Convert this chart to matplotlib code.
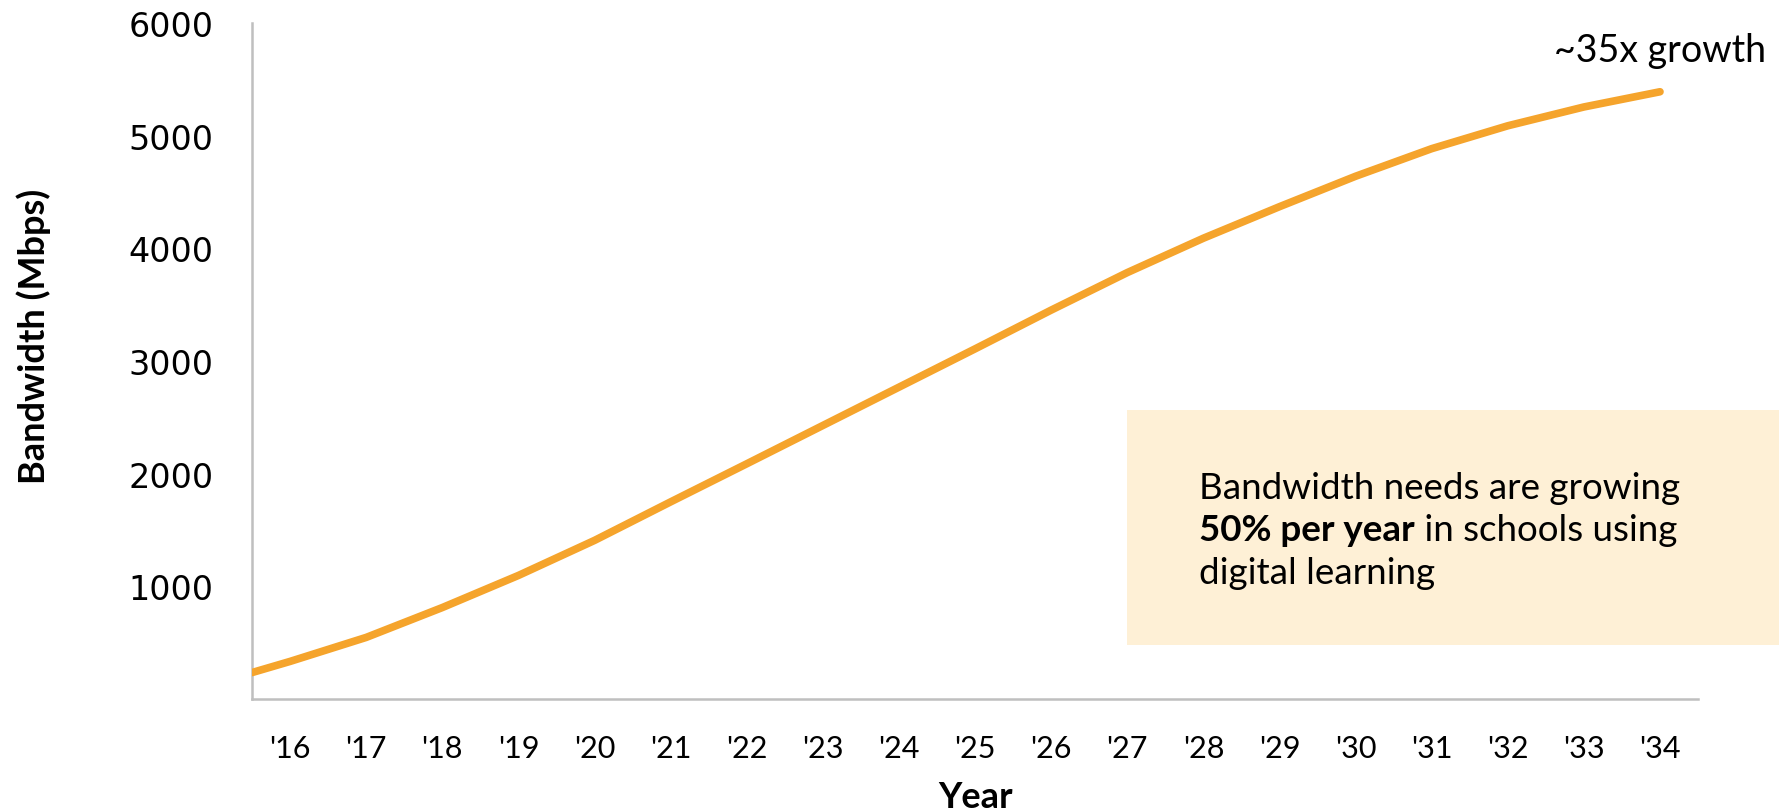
import matplotlib
matplotlib.use("Agg")
import matplotlib.pyplot as plt
from matplotlib.patches import Rectangle

plt.rcParams['font.family'] = ['Lato', 'DejaVu Sans']

# data
years = [2015.5, 2016, 2017, 2018, 2019, 2020, 2021, 2022, 2023, 2024, 2025,
         2026, 2027, 2028, 2029, 2030, 2031, 2032, 2033, 2034]
bandwidth = [235, 334, 547, 812, 1097, 1408, 1750, 2088, 2428, 2768, 3108,
             3452, 3785, 4090, 4370, 4640, 4885, 5088, 5255, 5390]
tick_years = list(range(2016, 2035))
tick_labels = ["'%02d" % (y % 100) for y in tick_years]
y_ticks = [1000, 2000, 3000, 4000, 5000, 6000]

line_color = '#F5A42C'
grey = '#BFBFBF'

fig = plt.figure(figsize=(17.79, 8.12), dpi=100)
ax = fig.add_axes([0.1417, 0.1379, 0.9545 - 0.1417, 0.9704 - 0.1379])

# shaded note box, runs off the right edge of the figure
fig.patches.append(Rectangle((0.6335, 0.2044), 0.40, 0.2894,
                             transform=fig.transFigure, facecolor='#FEF0D6',
                             edgecolor='none', zorder=0))
ax.set_facecolor('none')

ax.plot(years, bandwidth, color=line_color, linewidth=5.5,
        solid_capstyle='round', zorder=3)

ax.set_xlim(2015.5, 2034.5)
ax.set_ylim(0, 6000)
ax.set_xticks(tick_years)
ax.set_xticklabels(tick_labels, fontsize=22)
ax.set_yticks(y_ticks)
ax.set_yticklabels([str(v) for v in y_ticks], fontsize=24, family='DejaVu Sans')
ax.tick_params(axis='x', length=0, pad=25)
ax.tick_params(axis='y', length=0, pad=28)

for s in ['top', 'right']:
    ax.spines[s].set_visible(False)
for s in ['left', 'bottom']:
    ax.spines[s].set_color(grey)
    ax.spines[s].set_linewidth(1.8)

ax.set_xlabel('Year', fontsize=26, fontweight='bold')
ax.xaxis.set_label_coords(0.5, -0.12)
ax.set_ylabel('Bandwidth (Mbps)', fontsize=26, fontweight='bold', va='center')
ax.yaxis.set_label_coords(-0.1508, 0.538)

ax.text(2034, 5760, '~35x growth', fontsize=27, ha='center', va='center')

# note text, second line mixes bold and normal
fs = 26.5
fig.text(0.674, 0.399, 'Bandwidth needs are growing', fontsize=fs, va='center')
bold = fig.text(0.674, 0.347, '50% per year', fontsize=fs, fontweight='bold',
                va='center')
fig.canvas.draw()
bb = bold.get_window_extent()
fig.text(bb.x1 / fig.bbox.width, 0.347, ' in schools using', fontsize=fs,
         va='center')
fig.text(0.674, 0.294, 'digital learning', fontsize=fs, va='center')

fig.savefig('out.png', dpi=100)
